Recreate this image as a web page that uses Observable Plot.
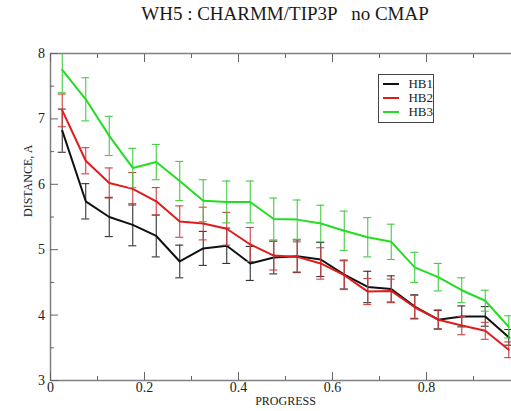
<!DOCTYPE html>
<html><head><meta charset="utf-8">
<script src="https://cdn.jsdelivr.net/npm/d3@7"></script>
<script src="https://cdn.jsdelivr.net/npm/@observablehq/plot@0.6"></script>
<style>
html,body{margin:0;padding:0;background:#fff;overflow:hidden;width:511px;height:411px;}
#wrap{position:relative;width:520px;}
#title{height:36px;padding-left:50px;padding-top:4px;box-sizing:border-box;font-family:"Liberation Serif",serif;font-size:19px;line-height:20px;text-align:center;white-space:pre;color:#1a1a1a;}
#legend{position:absolute;left:378px;top:74px;width:56px;height:49px;border:1.5px solid #444;box-sizing:border-box;background:#fff;font-family:"Liberation Serif",serif;font-size:13px;color:#222;padding-top:2px;}
.item{height:14px;line-height:14px;display:flex;align-items:center;}
.sw{width:21px;height:2px;margin-left:4px;margin-right:9px;}
svg{display:block;}
</style></head>
<body>
<div id="wrap">
<div id="title">WH5 : CHARMM/TIP3P   no CMAP</div>
<div id="chart"></div>
<div id="legend"></div>
</div>
<script>
const progress = [0.025,0.075,0.125,0.175,0.225,0.275,0.325,0.375,0.425,0.475,0.525,0.575,0.625,0.675,0.725,0.775,0.825,0.875,0.925,0.975];
const hb1    = [6.82,5.74,5.50,5.38,5.21,4.82,5.02,5.06,4.79,4.88,4.90,4.85,4.62,4.43,4.40,4.13,3.93,3.98,3.98,3.66];
const hb1err = [0.33,0.27,0.30,0.32,0.32,0.25,0.26,0.27,0.26,0.25,0.25,0.26,0.22,0.24,0.20,0.18,0.14,0.16,0.15,0.12];
const hb2    = [7.13,6.36,6.02,5.93,5.74,5.43,5.40,5.32,5.08,4.91,4.89,4.79,4.61,4.36,4.37,4.12,3.93,3.84,3.76,3.47];
const hb2err = [0.25,0.20,0.23,0.25,0.21,0.24,0.25,0.25,0.26,0.22,0.23,0.24,0.22,0.20,0.18,0.18,0.15,0.14,0.13,0.12];
const hb3    = [7.75,7.30,6.74,6.25,6.34,6.05,5.75,5.73,5.73,5.47,5.46,5.40,5.29,5.19,5.12,4.73,4.58,4.38,4.22,3.82];
const hb3err = [0.35,0.33,0.30,0.30,0.27,0.30,0.32,0.32,0.32,0.32,0.30,0.28,0.30,0.30,0.27,0.23,0.21,0.19,0.16,0.17];
const seriesNames = ["HB1","HB2","HB3"];
const seriesColors = ["#111111","#e01b1b","#22dd22"];
const errColors = ["#333333","#d04040","#44cc44"];
const xMajor = [0,0.2,0.4,0.6,0.8,1];
const xLabels = [0,0.2,0.4,0.6,0.8];
const xMinor = [0.1,0.3,0.5,0.7,0.9];
const yMajor = [3,4,5,6,7,8];
const yMinor = [3.5,4.5,5.5,6.5,7.5];

const vals = [hb1,hb2,hb3], errs = [hb1err,hb2err,hb3err];
const capHalf = 0.0085;
const marks = [];
seriesNames.forEach((name,k) => {
  const rows = progress.map((x,i) => ({x, y: vals[k][i], lo: vals[k][i]-errs[k][i], hi: vals[k][i]+errs[k][i]}));
  marks.push(Plot.ruleX(rows, {x:"x", y1:"lo", y2:"hi", stroke: errColors[k], strokeWidth:1.1, clip:true}));
  marks.push(Plot.ruleY(rows, {y:"lo", x1: d => d.x-capHalf, x2: d => d.x+capHalf, stroke: errColors[k], strokeWidth:1.1, clip:true}));
  marks.push(Plot.ruleY(rows, {y:"hi", x1: d => d.x-capHalf, x2: d => d.x+capHalf, stroke: errColors[k], strokeWidth:1.1, clip:true}));
  marks.push(Plot.line(rows, {x:"x", y:"y", stroke: seriesColors[k], strokeWidth:2, clip:true}));
});
const fmt = d => String(d);
const none = () => "";
marks.push(
  Plot.frame({stroke:"#808080", strokeWidth:1.5}),
  Plot.axisX({ticks:xMajor, tickSize:-8, tickFormat:none, label:null, stroke:"#666"}),
  Plot.axisX({ticks:xLabels, tickSize:0, tickPadding:2, tickFormat: fmt, label:null, fontSize:14}),
  Plot.axisX({ticks:xMinor, tickSize:-4, tickFormat:none, label:null, stroke:"#666"}),
  Plot.axisX({anchor:"top", ticks:xMajor, tickSize:-8, tickFormat:none, label:null, stroke:"#666"}),
  Plot.axisX({anchor:"top", ticks:xMinor, tickSize:-4, tickFormat:none, label:null, stroke:"#666"}),
  Plot.axisY({ticks:yMajor, tickSize:-8, tickPadding:13.5, tickFormat: fmt, label:null, fontSize:14, stroke:"#666"}),
  Plot.axisY({ticks:yMinor, tickSize:-4, tickFormat:none, label:null, stroke:"#666"}),
  Plot.axisY({anchor:"right", ticks:yMajor, tickSize:-8, tickFormat:none, label:null, stroke:"#666"}),
  Plot.axisY({anchor:"right", ticks:yMinor, tickSize:-4, tickFormat:none, label:null, stroke:"#666"}),
  Plot.text(["PROGRESS"], {frameAnchor:"bottom", dy:24, fontSize:12, fill:"#222"}),
  Plot.text(["DISTANCE, A"], {frameAnchor:"left", rotate:-90, dx:-22, fontSize:12, fill:"#222"})
);

const chart = Plot.plot({
  width:520, height:375,
  marginLeft:50, marginRight:0, marginTop:17, marginBottom:31,
  x:{domain:[0,1], label:null},
  y:{domain:[3,8], label:null},
  style:{fontFamily:"'Liberation Serif', serif", color:"#222", background:"#fff", overflow:"visible"},
  marks
});
document.getElementById("chart").appendChild(chart);

const leg = document.getElementById("legend");
seriesNames.forEach((name,k) => {
  const it = document.createElement("div");
  it.className = "item";
  const sw = document.createElement("span");
  sw.className = "sw";
  sw.style.background = seriesColors[k];
  const t = document.createElement("span");
  t.textContent = name;
  it.appendChild(sw); it.appendChild(t);
  leg.appendChild(it);
});
</script>
</body></html>
